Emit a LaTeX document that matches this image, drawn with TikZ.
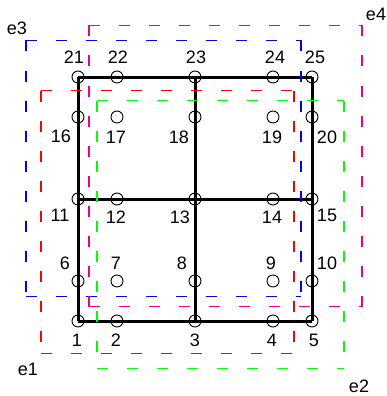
\documentclass[tikz,border=0pt]{standalone}
\usepackage{fontspec}
\setmainfont{Liberation Sans}
\begin{document}
\begin{tikzpicture}[x=1pt,y=-1pt,
  pt/.style={circle,draw=black,line width=0.9pt,minimum size=12pt,inner sep=0pt},
  lab/.style={font=\fontsize{18}{18}\selectfont,inner sep=0pt},
  gridline/.style={line width=3pt,black},
  edash/.style={line width=1.2pt,dash pattern=on 11pt off 19pt}]
\useasboundingbox (0,0) rectangle (387,396);
% circles
\foreach \k/\x/\y in {1/78/321,2/117/321,3/195/321,4/273/321,5/312/321,
  6/78/281,7/117/281,8/195/281,9/273/281,10/312/281,
  11/78/199,12/117/199,13/195/199,14/273/199,15/312/199,
  16/78/117,17/117/117,18/195/117,19/273/117,20/312/117,
  21/78/77,22/117/77,23/195/77,24/273/77,25/312/77}
  \node[pt] (n\k) at (\x,\y) {};
% labels
\foreach \k/\x/\y in {1/77/340,2/116/340,3/195/340,4/272/340,5/314/340,
  6/65/263,7/116/263,8/182/263,9/271/263,10/327/263,
  11/60/215,12/116/217,13/180/217,14/272/217,15/327/215,
  16/61/136,17/116/137,18/179/137,19/272/137,20/327/137,
  21/74/57,22/118/57,23/196/57,24/275/57,25/315/57}
  \node[lab] (l\k) at (\x,\y) {\k};
% grid
\draw[gridline] (n1.center) -- (n5.center);
\draw[gridline] (n11.center) -- (n15.center);
\draw[gridline] (n21.center) -- (n25.center);
\draw[gridline] (n1.center) -- (n21.center);
\draw[gridline] (n3.center) -- (n23.center);
\draw[gridline] (n5.center) -- (n25.center);
% element boxes
\coordinate (e3a) at (26,40.5);  \coordinate (e3b) at (301,40.5);
\coordinate (e3c) at (301,296.5); \coordinate (e3d) at (26,296.5);
\coordinate (e4a) at (89,25.5);  \coordinate (e4b) at (362,25.5);
\coordinate (e4c) at (362,306.5); \coordinate (e4d) at (89,306.5);
\coordinate (e1a) at (41,90.5);  \coordinate (e1b) at (294,90.5);
\coordinate (e1c) at (294,353.5); \coordinate (e1d) at (41,353.5);
\coordinate (e2a) at (97,100.5);  \coordinate (e2b) at (344,100.5);
\coordinate (e2c) at (344,368.5); \coordinate (e2d) at (97,368.5);
\draw[edash,blue] (e3a) -- (e3b) (e3a) -- (e3d) (e3d) -- (e3c) (e3b) -- (e3c);
\draw[edash,magenta] (e4a) -- (e4b) (e4a) -- (e4d) (e4d) -- (e4c) (e4b) -- (e4c);
\draw[edash,red] (e1a) -- (e1b) (e1a) -- (e1d) (e1d) -- (e1c) (e1b) -- (e1c);
\draw[edash,green] (e2a) -- (e2b) (e2a) -- (e2d) (e2d) -- (e2c) (e2b) -- (e2c);
\node[lab] (te3) at (17,28) {e3};
\node[lab] (te4) at (376,14) {e4};
\node[lab] (te1) at (28,369) {e1};
\node[lab] (te2) at (359,386) {e2};
\end{tikzpicture}
\end{document}
